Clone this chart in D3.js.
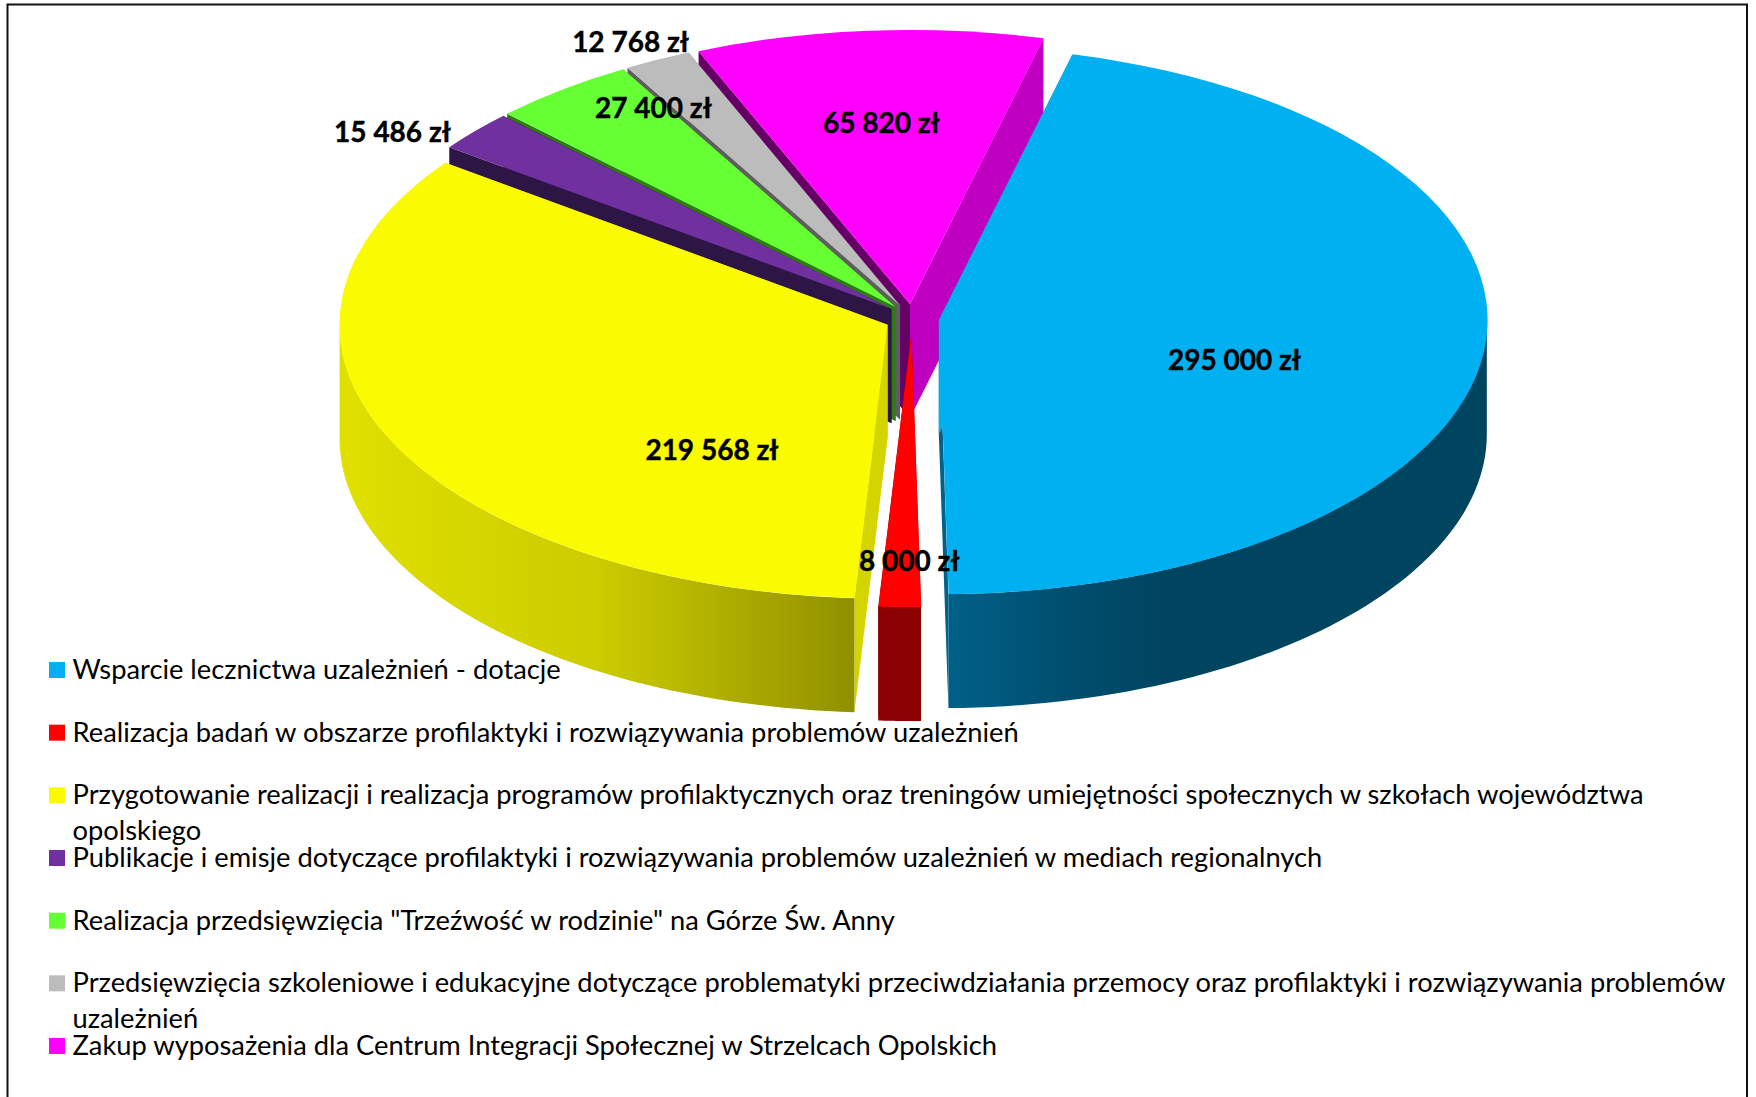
<!DOCTYPE html>
<html>
<head>
<meta charset="utf-8">
<script src="https://cdn.jsdelivr.net/npm/d3@7"></script>
<style>
  html, body { margin: 0; background: #fff; }
  svg { display: block; }
  text { font-family: Lato, "Open Sans", sans-serif; fill: #000; }
</style>
</head>
<body>
<svg id="chart" width="1756" height="1097"></svg>
<script>
const categories = [
    ["Wsparcie lecznictwa uzależnień - dotacje"],
    ["Realizacja badań w obszarze profilaktyki i rozwiązywania problemów uzależnień"],
    ["Przygotowanie realizacji i realizacja programów profilaktycznych oraz treningów umiejętności społecznych w szkołach województwa", "opolskiego"],
    ["Publikacje i emisje dotyczące profilaktyki i rozwiązywania problemów uzależnień w mediach regionalnych"],
    ["Realizacja przedsięwzięcia \"Trzeźwość w rodzinie\" na Górze Św. Anny"],
    ["Przedsięwzięcia szkoleniowe i edukacyjne dotyczące problematyki przeciwdziałania przemocy oraz profilaktyki i rozwiązywania problemów", "uzależnień"],
    ["Zakup wyposażenia dla Centrum Integracji Społecznej w Strzelcach Opolskich"]
];
const values = [295000, 8000, 219568, 15486, 27400, 12768, 65820];
const colors = ["#00b0f0", "#ff0000", "#fafa00", "#7030a0", "#66ff33", "#bcbcbc", "#ff00ff"];
// wall along the start edge / end edge of each slice
const startWall = ["#00b0f0", "#8b0000", "#d4d400", "#2d1646", "#2e7a14", "#5e5e5e", "#660066"];
const endWall = ["#00618a", "#8b0000", "#d4d400", "#2d1646", "#2e7a14", "#5e5e5e", "#c000c0"];
// stops of the rim gradient, only the front slices show a rim
const rimStops = [
    [[0, "#006088"], [0.25, "#004c6c"], [0.4, "#004560"], [1, "#004560"]],
    [[0, "#8b0000"], [1, "#8b0000"]],
    [[0, "#e0e000"], [0.5, "#cccc00"], [0.75, "#aeae00"], [1, "#909000"]],
    [[0, "#2d1646"], [1, "#2d1646"]],
    [[0, "#2e7a14"], [1, "#2e7a14"]],
    [[0, "#5e5e5e"], [1, "#5e5e5e"]],
    [[0, "#660066"], [1, "#660066"]]
];
// nudge from the 0.6 radius point of each slice to where the label sits
const labelNudge = [[-31, 21], [5, 64], [122, 56], [-249, -70], [-42, -68], [-124, -116], [-4, -17]];

const svg = d3.select("#chart"),
      width = +svg.attr("width"),
      height = +svg.attr("height");

const cx = 912, cy = 318.5, rx = 548, ry = 274, depth = 114;
const explode = 27, explodeY = 14.5;
const startAngle = 14.1 * Math.PI / 180;

const fmt = v => d3.format(",")(v).replace(/,/g, " ") + " zł";

const slices = d3.pie().sort(null).startAngle(startAngle).endAngle(startAngle + 2 * Math.PI)(values);

// frame
svg.append("path")
    .attr("d", `M7.5,${height}V4.5H1747V${height}`)
    .attr("fill", "none")
    .attr("stroke", "#111")
    .attr("stroke-width", 2);

const defs = svg.append("defs");
const arc = d3.arc().innerRadius(0).outerRadius(1);
const line = d3.line();

// ellipse point for an angle measured clockwise from 12 o'clock
const rim = (a, ox, oy, dz) => [ox + rx * Math.sin(a), oy - ry * Math.cos(a) + dz];

slices.forEach(s => {
    s.mid = (s.startAngle + s.endAngle) / 2;
    s.ox = cx + explode * Math.sin(s.mid);
    s.oy = cy - explodeY * Math.cos(s.mid);
});

// back slices first
const drawOrder = slices.slice().sort((a, b) => Math.cos(b.mid) - Math.cos(a.mid));

const pie = svg.append("g");

drawOrder.forEach(s => {
    const i = s.index;
    const g = pie.append("g");

    [[s.endAngle, endWall[i]], [s.startAngle, startWall[i]]].forEach(([a, c]) => {
        const p0 = [s.ox, s.oy], p1 = rim(a, s.ox, s.oy, 0), p2 = rim(a, s.ox, s.oy, depth), p3 = [s.ox, s.oy + depth];
        g.append("path").attr("d", line([p0, p1, p2, p3]) + "Z").attr("fill", c);
    });

    // rim wall, only the part of the arc facing the viewer
    const a0 = Math.max(s.startAngle, Math.PI / 2), a1 = Math.min(s.endAngle, Math.PI * 1.5);
    if (a1 > a0) {
        const steps = d3.range(0, 61).map(k => a0 + (a1 - a0) * k / 60);
        const top = steps.map(a => rim(a, s.ox, s.oy, 0));
        const bottom = steps.map(a => rim(a, s.ox, s.oy, depth)).reverse();
        const xs = d3.extent(top, d => d[0]);
        const gid = "rim" + i;
        const grad = defs.append("linearGradient").attr("id", gid)
            .attr("gradientUnits", "userSpaceOnUse")
            .attr("x1", xs[0]).attr("x2", xs[1]).attr("y1", 0).attr("y2", 0);
        // the blue rim gets darker going right, the yellow one too
        rimStops[i].forEach(st => grad.append("stop").attr("offset", st[0]).attr("stop-color", st[1]));
        g.append("path").attr("d", line(top.concat(bottom)) + "Z").attr("fill", `url(#${gid})`);
    }

    g.append("path")
        .attr("d", arc(s))
        .attr("transform", `translate(${s.ox},${s.oy}) scale(${rx},${ry})`)
        .attr("fill", colors[i]);
});

// value labels
slices.forEach(s => {
    const p = [s.ox + 0.6 * rx * Math.sin(s.mid), s.oy - 0.6 * ry * Math.cos(s.mid)];
    svg.append("text")
        .attr("x", p[0] + labelNudge[s.index][0])
        .attr("y", p[1] + labelNudge[s.index][1])
        .attr("dy", "0.35em")
        .attr("text-anchor", "middle")
        .attr("font-size", 28)
        .attr("font-weight", 700)
        .attr("stroke", "#000")
        .attr("stroke-width", 0.4)
        .text(fmt(s.value));
});

// legend
const legendY = d3.scaleLinear().domain([0, 6]).range([670, 1046]);
categories.forEach((lines, i) => {
    const y = legendY(i);
    svg.append("rect")
        .attr("x", 49).attr("y", y - 8)
        .attr("width", 16).attr("height", 16)
        .attr("fill", colors[i]);
    lines.forEach((t, j) => {
        svg.append("text")
            .attr("x", 72.5)
            .attr("y", y + 9 + j * 36)
            .attr("font-size", 27.3)
            .text(t);
    });
});
</script>
</body>
</html>
